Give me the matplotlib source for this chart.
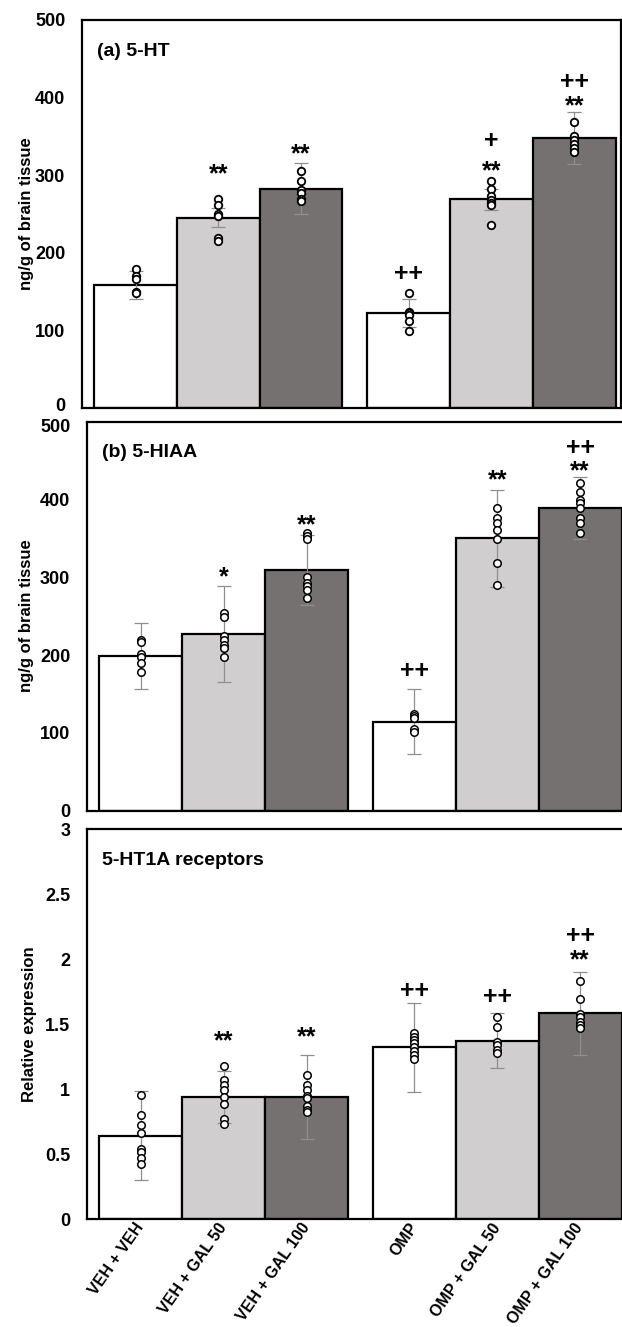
import matplotlib
matplotlib.use('Agg')
import matplotlib.pyplot as plt
import matplotlib.transforms as mtransforms
from matplotlib.textpath import TextPath
from matplotlib.font_manager import FontProperties
import numpy as np

plt.rcParams['font.family'] = ['Liberation Sans', 'DejaVu Sans']

categories = ['VEH + VEH', 'VEH + GAL 50', 'VEH + GAL 100',
              'OMP', 'OMP + GAL 50', 'OMP + GAL 100']

# (a) 5-HT
ht_mean = [159, 245.5, 282.8, 122.3, 269, 348.5]
ht_sd = [18, 12, 33, 18, 14, 33.5]
ht_points = [
    [180, 170, 166, 150, 148],
    [269.5, 262, 250.6, 248, 218.9, 215],
    [306, 292.7, 280.7, 276.8, 269, 267],
    [148.5, 124.5, 122.3, 119.7, 112.9, 99.6],
    [293, 282.6, 273.3, 268, 263.8, 261.2, 235.9],
    [369, 350.5, 345.4, 340.3, 335.1, 330],
]
ht_sig = [[], [('**', 309)], [('**', 334)], [('++', 174)],
          [('+', 345.5), ('**', 312)], [('++', 422), ('**', 395.7)]]

# (b) 5-HIAA
hiaa_mean = [198.8, 227, 310, 114.4, 350, 388.7]
hiaa_sd = [42, 62, 45, 42, 62, 40]
hiaa_points = [
    [219.4, 216.4, 201, 198, 189.4, 178.7],
    [253.6, 249.4, 224.5, 219.4, 212.9, 208.7, 197.1],
    [356.5, 353, 348.8, 299.9, 292.2, 289.2, 283.6, 272.9],
    [123.8, 121.7, 118.7, 104.5, 101.5],
    [388.7, 375.8, 369.4, 360.8, 349.2, 318.8, 290.1],
    [420.8, 410, 399.4, 395, 388.7, 375.8, 369.4, 356.5],
]
hiaa_sig = [[], [('*', 307)], [('**', 374.5)], [('++', 181.7)],
            [('**', 431.5)], [('++', 468), ('**', 444)]]

# 5-HT1A receptors
rec_mean = [0.644, 0.94, 0.94, 1.322, 1.373, 1.582]
rec_sd = [0.34, 0.2, 0.32, 0.34, 0.21, 0.32]
rec_points = [
    [0.952, 0.804, 0.727, 0.662, 0.539, 0.521, 0.47, 0.426],
    [1.181, 1.068, 1.03, 0.996, 0.937, 0.888, 0.77, 0.734],
    [1.107, 1.03, 0.996, 0.95, 0.932, 0.868, 0.837, 0.822],
    [1.430, 1.404, 1.378, 1.357, 1.327, 1.296, 1.263, 1.230],
    [1.557, 1.480, 1.365, 1.340, 1.301, 1.276],
    [1.832, 1.691, 1.578, 1.553, 1.519, 1.494, 1.473],
]
rec_sig = [[], [('**', 1.407)], [('**', 1.438)], [('++', 1.763)],
           [('++', 1.716)], [('++', 2.185), ('**', 2.031)]]

bar_colors = ['#FFFFFF', '#D0CECE', '#767171']

W, H = 622, 1327
DPI = 100
fig = plt.figure(figsize=(W / DPI, H / DPI), dpi=DPI)
renderer = fig.canvas.get_renderer()

SIG_FS = 18
sig_fp = FontProperties(family='Liberation Sans', weight='bold', size=SIG_FS)
sig_px = SIG_FS * DPI / 72.0
_, lp_h, lp_d = renderer.get_text_width_height_descent('lp', sig_fp, ismath=False)
lp_asc = lp_h - lp_d


def glyph_center(s):
    ext = TextPath((0, 0), s, size=1, prop=sig_fp).get_extents()
    return (ext.y0 + ext.y1) / 2.0


def px_axes(left, top, right, bottom):
    return fig.add_axes([left / W, 1 - bottom / H, (right - left) / W, (bottom - top) / H])


def annotate(ax, x, items):
    if not items:
        return
    items = sorted(items, key=lambda t: -t[1])  # top first
    base = []
    for txt, yv in items:
        py = ax.transData.transform((x, yv))[1]
        base.append(py - glyph_center(txt) * sig_px)
    ls = 1.2
    if len(items) > 1:
        ls = ((base[0] - base[1]) - lp_d) / lp_asc
    dy = base[0] + lp_asc - ax.transData.transform((x, items[0][1]))[1]
    tr = mtransforms.offset_copy(ax.transData, fig=fig, x=0, y=dy, units='dots')
    ax.text(x, items[0][1], '\n'.join(t for t, _ in items), transform=tr,
            ha='center', va='top', multialignment='center', linespacing=ls,
            fontproperties=sig_fp, color='black', zorder=4)


gap = 0.3
xpos = np.array([0, 1, 2, 3 + gap, 4 + gap, 5 + gap])

panels = [
    dict(rect=(82, 20, 621, 408.3), mean=ht_mean, sd=ht_sd, pts=ht_points, sig=ht_sig,
         ylim=(0, 500), ticks=[0, 100, 200, 300, 400, 500], title='(a) 5-HT',
         ylabel='ng/g of brain tissue', ylab_xy=(27, 214), mew=1.3),
    dict(rect=(87, 421.7, 627, 810.7), mean=hiaa_mean, sd=hiaa_sd, pts=hiaa_points, sig=hiaa_sig,
         ylim=(0, 500), ticks=[0, 100, 200, 300, 400, 500], title='(b) 5-HIAA',
         ylabel='ng/g of brain tissue', ylab_xy=(27, 616), mew=1.1),
    dict(rect=(87, 829, 627, 1219.3), mean=rec_mean, sd=rec_sd, pts=rec_points, sig=rec_sig,
         ylim=(0, 3), ticks=[0, 0.5, 1, 1.5, 2, 2.5, 3], title='5-HT1A receptors',
         ylabel='Relative expression', ylab_xy=(30, 1024), mew=1.1),
]

axes = []
for i, p in enumerate(panels):
    ax = px_axes(*p['rect'])
    axes.append(ax)
    colors = [bar_colors[k % 3] for k in range(6)]
    ax.bar(xpos, p['mean'], width=1.0, color=colors, edgecolor='black', linewidth=1.6, zorder=1)
    ax.errorbar(xpos, p['mean'], yerr=p['sd'], fmt='none', ecolor='#8f8f8f',
                elinewidth=0.9, capsize=5, capthick=0.9, zorder=2)
    for x, pts in zip(xpos, p['pts']):
        ax.plot([x] * len(pts), pts, 'o', ms=5.4, mfc='white', mec='black',
                mew=p['mew'], zorder=3, clip_on=False)
    ax.set_xlim(-0.648, -0.648 + 6.514)
    ax.set_ylim(*p['ylim'])
    for x, sigs in zip(xpos, p['sig']):
        annotate(ax, x, sigs)
    ax.set_yticks(p['ticks'])
    ax.set_yticklabels([('%g' % t) for t in p['ticks']], fontsize=13, fontweight='bold')
    ax.tick_params(axis='y', length=0, pad=12)
    ax.tick_params(axis='x', length=0, pad=4)
    for s in ax.spines.values():
        s.set_linewidth(1.6)
        s.set_color('black')
    if i == 2:
        ax.set_xticks(xpos)
        ax.set_xticklabels(categories, rotation=55, ha='right', va='center',
                           rotation_mode='anchor', fontsize=11.5, fontweight='bold')
    else:
        ax.set_xticks([])
    ax.text(0.027, 0.92, p['title'], transform=ax.transAxes, ha='left', va='center',
            fontsize=14, fontweight='bold')
    fig.text(p['ylab_xy'][0] / W, 1 - p['ylab_xy'][1] / H, p['ylabel'], rotation=90,
             ha='center', va='center', fontsize=12, fontweight='bold')

# nudge the touching "0" (panel a) and "500" (panel b) labels apart slightly
lab0 = axes[0].yaxis.get_major_ticks()[0].label1
lab0.set_transform(lab0.get_transform() + mtransforms.ScaledTranslation(0, 3.5 / DPI, fig.dpi_scale_trans))
lab500 = axes[1].yaxis.get_major_ticks()[-1].label1
lab500.set_transform(lab500.get_transform() + mtransforms.ScaledTranslation(0, -3.5 / DPI, fig.dpi_scale_trans))

fig.savefig('out.png', dpi=DPI)
